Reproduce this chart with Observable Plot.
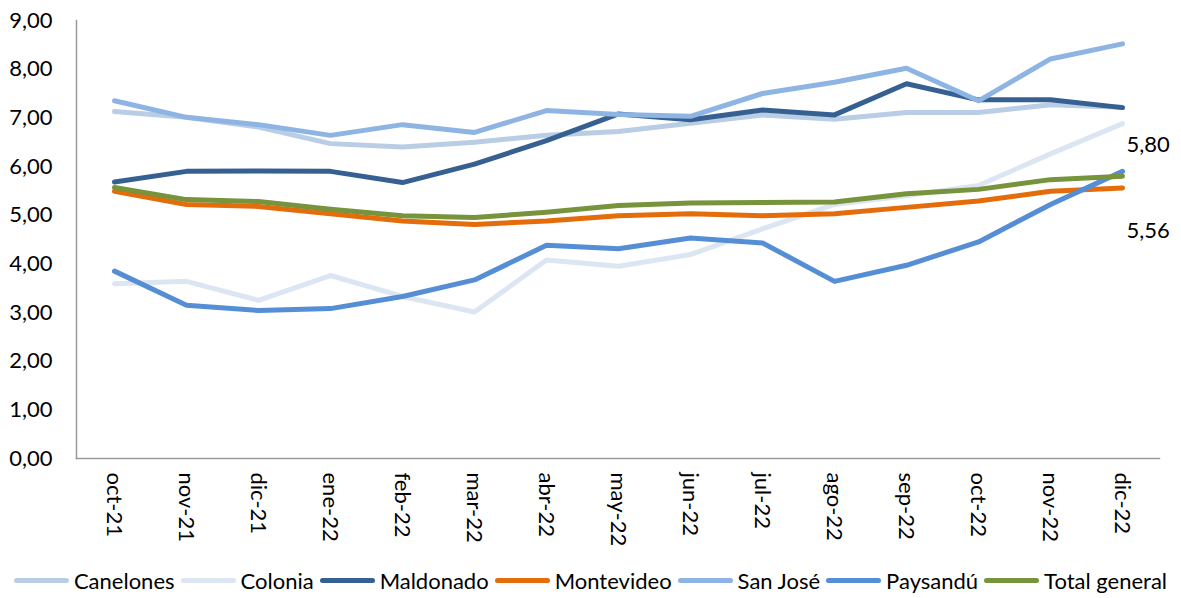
<!DOCTYPE html>
<html>
<head>
<meta charset="utf-8">
<script src="https://cdn.jsdelivr.net/npm/d3@7"></script>
<script src="https://cdn.jsdelivr.net/npm/@observablehq/plot@0.6"></script>
<style>
  html, body { margin: 0; padding: 0; background: #fff; }
  #wrap { width: 1181px; height: 598px; font-family: Lato, "Open Sans", sans-serif; }
  #legend { display: flex; justify-content: center; align-items: center; height: 36px; font-size: 22px; color: #000; }
  .item { display: flex; align-items: center; margin: 0 3px; }
  .sw { width: 55px; height: 5px; border-radius: 3px; margin-right: 5px; }
</style>
</head>
<body>
<div id="wrap">
  <div id="chart"></div>
  <div id="legend"></div>
</div>
<script>
const months = ["oct-21","nov-21","dic-21","ene-22","feb-22","mar-22","abr-22","may-22","jun-22","jul-22","ago-22","sep-22","oct-22","nov-22","dic-22"];
const seriesNames = ["Canelones","Colonia","Maldonado","Montevideo","San José","Paysandú","Total general"];
const seriesColors = ["#B9CDE5","#DCE6F2","#376092","#E46C0A","#8EB4E3","#558ED5","#77933C"];

const canelones   = [7.13,7.01,6.81,6.47,6.40,6.50,6.64,6.72,6.89,7.06,6.97,7.11,7.11,7.27,7.22];
const colonia     = [3.59,3.64,3.25,3.76,3.33,3.01,4.08,3.95,4.19,4.72,5.22,5.40,5.61,6.26,6.88];
const maldonado   = [5.68,5.90,5.91,5.90,5.67,6.05,6.53,7.08,6.96,7.16,7.06,7.70,7.37,7.37,7.21];
const montevideo  = [5.49,5.22,5.18,5.03,4.88,4.81,4.88,4.99,5.03,4.99,5.03,5.16,5.29,5.49,5.56];
const sanJose     = [7.35,7.01,6.86,6.64,6.86,6.70,7.15,7.07,7.03,7.50,7.73,8.02,7.35,8.21,8.52];
const paysandu    = [3.85,3.15,3.04,3.08,3.33,3.67,4.38,4.31,4.53,4.43,3.64,3.97,4.45,5.22,5.90];
const total       = [5.57,5.32,5.28,5.12,4.99,4.95,5.06,5.20,5.25,5.26,5.27,5.44,5.53,5.73,5.80];

const yTicks = [0,1,2,3,4,5,6,7,8,9];
const endLabels = [{m: "dic-22", v: 5.80}, {m: "dic-22", v: 5.56}];

const allSeries = [canelones, colonia, maldonado, montevideo, sanJose, paysandu, total];
const table = [];
allSeries.forEach((arr, i) => arr.forEach((v, j) => table.push({s: seriesNames[i], m: months[j], v})));

const fmt = d => d.toFixed(2).replace(".", ",");

const chart = Plot.plot({
  width: 1181,
  height: 562,
  marginLeft: 76,
  marginRight: 22,
  marginTop: 20,
  marginBottom: 104,
  style: {fontFamily: "Lato, 'Open Sans', sans-serif", fontSize: "22px", color: "#000", background: "#fff"},
  x: {type: "point", domain: months, padding: 0.5},
  y: {domain: [0, 9]},
  color: {domain: seriesNames, range: seriesColors},
  marks: [
    Plot.axisY({ticks: yTicks, tickFormat: fmt, tickSize: 0, tickPadding: 24, label: null}),
    Plot.axisX({tickRotate: 90, tickSize: 0, tickPadding: 14, label: null}),
    Plot.frame({anchor: "left", stroke: "#9a9a9a", strokeWidth: 1.5}),
    Plot.frame({anchor: "bottom", stroke: "#9a9a9a", strokeWidth: 1.5}),
    Plot.line(table, {x: "m", y: "v", z: "s", stroke: "s", strokeWidth: 5, strokeLinecap: "round", strokeLinejoin: "round"}),
    Plot.text([endLabels[0]], {x: "m", y: "v", text: d => fmt(d.v), textAnchor: "start", dx: 4, dy: -31, fill: "#000"}),
    Plot.text([endLabels[1]], {x: "m", y: "v", text: d => fmt(d.v), textAnchor: "start", dx: 4, dy: 43, fill: "#000"})
  ]
});
document.getElementById("chart").appendChild(chart);

const legend = document.getElementById("legend");
seriesNames.forEach((n, i) => {
  const it = document.createElement("div");
  it.className = "item";
  const sw = document.createElement("div");
  sw.className = "sw";
  sw.style.background = seriesColors[i];
  const t = document.createElement("span");
  t.textContent = n;
  it.appendChild(sw); it.appendChild(t);
  legend.appendChild(it);
});
</script>
</body>
</html>
